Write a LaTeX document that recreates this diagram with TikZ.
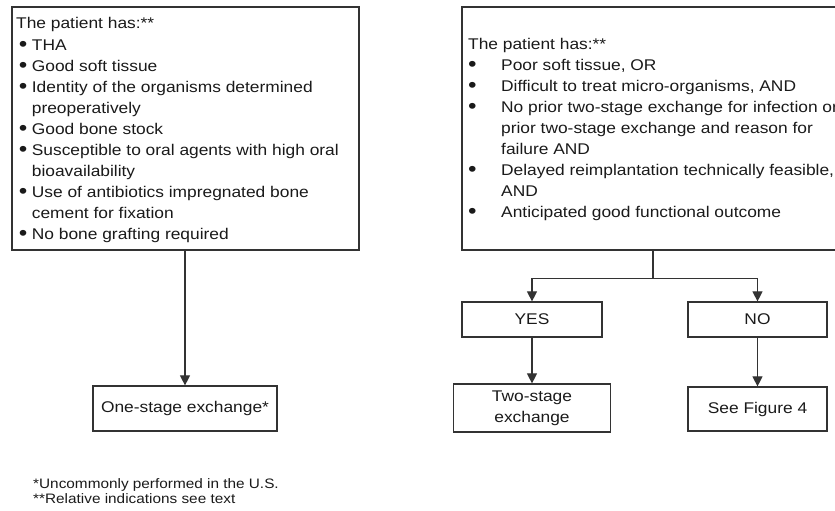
\documentclass[tikz,border=0pt]{standalone}
\usepackage{fontspec}
\usepackage{graphicx}
\setmainfont{Liberation Sans}[FakeStretch=1.12]
\usetikzlibrary{arrows.meta}
\definecolor{ink}{HTML}{1A1A1A}
\definecolor{edge}{HTML}{333333}
\newcommand\bigbul{\raisebox{-1.2pt}{\scalebox{1.4}{•}}}
\newcommand\lbul{\makebox[15.7pt][l]{\hspace{2.6pt}\bigbul}}
\newcommand\rbul{\makebox[34pt][l]{\hspace{1pt}\bigbul}}
\tikzset{
  box/.style={draw=edge, line width=1.2pt, inner sep=0pt, text=ink},
  txt/.style={inner sep=0pt, text=ink, font=\fontsize{15.5}{21}\selectfont},
  conn/.style={draw=edge, line width=1.1pt},
  arr/.style={conn, -{Triangle[width=10pt,length=10pt]}},
}
\begin{document}
\begin{tikzpicture}[x=1pt,y=-1pt]
\useasboundingbox (0,0) rectangle (835,511);
% left box
\node[box, minimum width=347pt, minimum height=243pt] (L) at (185.5,128.5) {};
\node[txt, anchor=base west] (Ltext) at (16,28.3) {\begin{tabular}[t]{@{}l@{}l@{}}
\multicolumn{2}{@{}l@{}}{The patient has:**}\\[1.3pt]
\lbul & THA\\
\lbul & Good soft tissue\\
\lbul & Identity of the organisms determined\\
 & preoperatively\\
\lbul & Good bone stock\\
\lbul & Susceptible to oral agents with high oral\\
 & bioavailability\\
\lbul & Use of antibiotics impregnated bone\\
 & cement for fixation\\
\lbul & No bone grafting required
\end{tabular}};
\node[box, txt, minimum width=184pt, minimum height=45pt] (O) at (185,408.5) {One-stage exchange*};
% right box
\node[box, minimum width=378pt, minimum height=243pt] (R) at (651,128.5) {};
\node[txt, anchor=base west] (Rtext) at (467,49.3) {\begin{tabular}[t]{@{}l@{}l@{}}
\multicolumn{2}{@{}l@{}}{\hspace{1pt}The patient has:**}\\
\rbul & Poor soft tissue, OR\\
\rbul & Difficult to treat micro-organisms, AND\\
\rbul & No prior two-stage exchange for infection or\\
 & prior two-stage exchange and reason for\\
 & failure AND\\
\rbul & Delayed reimplantation technically feasible,\\
 & AND\\
\rbul & Anticipated good functional outcome
\end{tabular}};
\node[box, txt, minimum width=140pt, minimum height=35pt] (Y) at (532,319.5) {YES};
\node[box, txt, minimum width=139pt, minimum height=35pt] (N) at (757.5,319.5) {NO};
\node[box, txt, minimum width=157pt, minimum height=48pt, align=center] (T) at (532,408) {Two-stage\\exchange};
\node[box, txt, minimum width=139pt, minimum height=44pt] (F) at (757.5,409) {See Figure 4};
% connectors
\draw[arr] (L.south -| O.north) -- (O.north);
\coordinate (rj) at (653,278.3);
\draw[conn] (R.south -| rj) -- (rj);
\draw[arr] (rj) -| (Y.north);
\draw[arr] (rj) -| (N.north);
\draw[arr] (Y.south) -- (T.north);
\draw[arr] (N.south) -- (F.north);
% footnotes
\node[inner sep=0pt, text=ink, font=\fontsize{13.7}{15}\selectfont, anchor=base west] (foot) at (33,488.3) {\begin{tabular}[t]{@{}l@{}}
*Uncommonly performed in the U.S.\\
{}**Relative indications see text
\end{tabular}};
\end{tikzpicture}
\end{document}
